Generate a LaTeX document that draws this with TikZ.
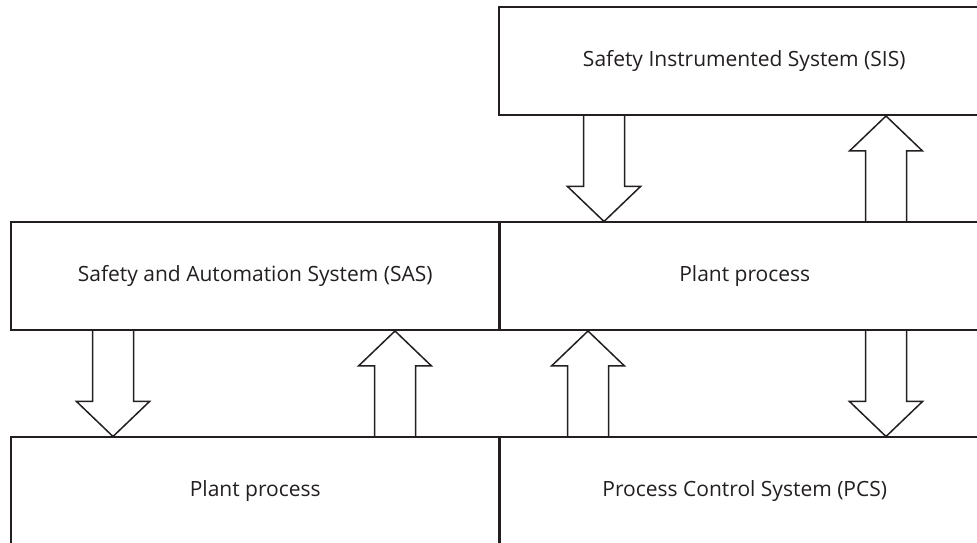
\documentclass[tikz,border=0pt]{standalone}
\usepackage{fontspec}
\setmainfont{Open Sans}
\usetikzlibrary{calc}
\definecolor{ink}{HTML}{231F20}
\tikzset{
  x=1pt,y=1pt,
  boxnode/.style={draw=ink,line width=1.5pt,anchor=south west,minimum height=108pt,inner sep=0pt,
    text=ink,font=\fontsize{21}{24}\selectfont},
  sepline/.style={draw=ink,line width=3pt},
  downfat/.style={draw=ink,line width=1.5pt,line join=miter,
    to path={let \p1=(\tikztostart),\p2=(\tikztotarget) in
      (\x1-20.5pt,\y1) -- (\x1-20.5pt,\y2+35pt) -- (\x1-36.5pt,\y2+35pt) -- (\x1,\y2)
      -- (\x1+36.5pt,\y2+35pt) -- (\x1+20.5pt,\y2+35pt) -- (\x1+20.5pt,\y1)}},
  upfat/.style={draw=ink,line width=1.5pt,line join=miter,
    to path={let \p1=(\tikztostart),\p2=(\tikztotarget) in
      (\x1-20.5pt,\y1) -- (\x1-20.5pt,\y2-35pt) -- (\x1-36.5pt,\y2-35pt) -- (\x1,\y2)
      -- (\x1+36.5pt,\y2-35pt) -- (\x1+20.5pt,\y2-35pt) -- (\x1+20.5pt,\y1)}}
}
\begin{document}
\begin{tikzpicture}
\useasboundingbox (0,0) rectangle (977,543);
\clip (0,0) rectangle (977,543);
\fill[white] (0,0) rectangle (977,543);
% boxes
\node[boxnode,minimum width=491pt] (sis) at (498,427) {Safety Instrumented System (SIS)};
\node[boxnode,minimum width=489pt] (sas) at (10,212) {Safety and Automation System (SAS)};
\node[boxnode,minimum width=490pt] (pp2) at (499,212) {Plant process};
\node[boxnode,minimum width=489pt] (pp1) at (10,-3) {Plant process};
\node[boxnode,minimum width=490pt] (pcs) at (499,-3) {Process Control System (PCS)};
% thick separators
\draw[sepline] (pp2.south west) -- (pp2.north west);
\draw[sepline] (pcs.south west) -- (pcs.north west);
% arrow x positions
\coordinate (xa) at (604,0);
\coordinate (xb) at (886,0);
\coordinate (xc) at (113,0);
\coordinate (xd) at (395,0);
\coordinate (xe) at (588,0);
% block arrows
\draw[downfat] (sis.south -| xa) to (pp2.north -| xa);
\draw[upfat] (pp2.north -| xb) to (sis.south -| xb);
\draw[downfat] (sas.south -| xc) to (pp1.north -| xc);
\draw[upfat] (pp1.north -| xd) to (sas.south -| xd);
\draw[upfat] (pcs.north -| xe) to (pp2.south -| xe);
\draw[downfat] (pp2.south -| xb) to (pcs.north -| xb);
\end{tikzpicture}
\end{document}
